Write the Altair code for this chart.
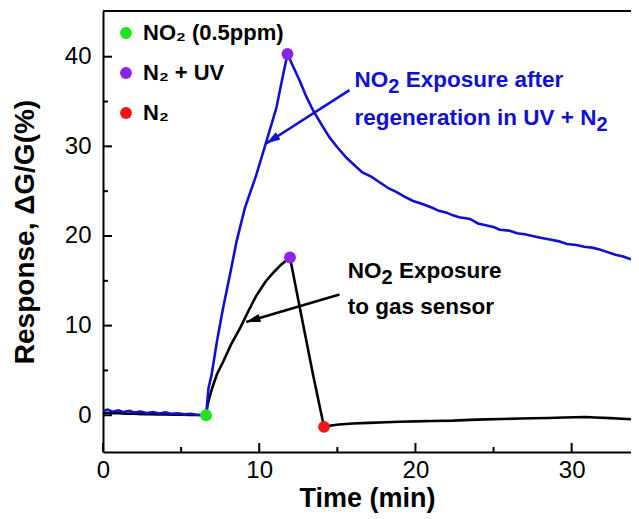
import math
import altair as alt
import pandas as pd

# ---------------- data ----------------
# black: first NO2 exposure of the sensor
black_t = [0, 0.5, 1, 1.5, 2, 2.5, 3, 3.5, 4, 4.5, 5, 5.5, 6, 6.6,
           6.7, 6.85, 7.0, 7.3, 7.7, 8.2, 8.8, 9.3, 9.8, 10.4, 10.9, 11.4, 11.97,
           12.6, 13.45, 14.15,
           14.6, 15.1, 16, 17, 18.1, 19, 20, 21, 22.4, 23.5, 24.5, 25.5, 26.7,
           27.5, 28.5, 29.5, 30.9, 31.5, 32.5, 33.8]
black_v = [0.28, 0.22, 0.24, 0.18, 0.16, 0.12, 0.13, 0.1, 0.08, 0.07, 0.05, 0.04, 0.02, 0.0,
           1.2, 2.2, 3.1, 4.6, 6.0, 7.9, 9.8, 11.6, 13.3, 14.9, 15.9, 16.8, 17.6,
           12.0, 4.5, -1.3,
           -1.15, -1.04, -0.92, -0.85, -0.78, -0.72, -0.68, -0.64, -0.6, -0.52, -0.46, -0.42, -0.37,
           -0.33, -0.3, -0.25, -0.2, -0.25, -0.32, -0.45]

# blue: NO2 exposure after regeneration in UV + N2
blue_t = [0, 0.3, 0.6, 1.0, 1.3, 1.7, 2.0, 2.4, 2.8, 3.2, 3.6, 4.0, 4.4, 4.8, 5.2, 5.6, 6.0, 6.6,
          6.75, 6.95, 7.3, 7.69, 8.13, 8.55, 9.08, 9.83, 10.47, 11.1, 11.53, 11.81,
          12.2, 12.6, 13.0, 13.45, 14.0, 14.5, 15.0, 15.6, 16.1, 16.6, 17.2, 17.7, 18.3, 18.8,
          19.3, 19.85, 20.4, 21.0, 21.5, 22.0, 22.4, 22.8, 23.5, 24.0, 24.5, 25.0, 25.4, 26.0,
          26.5, 27.0, 27.5, 28.0, 28.6, 29.2, 29.7, 30.3, 30.8, 31.3, 31.8, 32.3, 32.8, 33.3, 33.8]
blue_v = [0.5, 0.62, 0.4, 0.55, 0.35, 0.48, 0.3, 0.42, 0.25, 0.36, 0.2, 0.32, 0.15, 0.22, 0.1, 0.16, 0.06, 0.0,
          3.0, 4.5, 8.3, 12.0, 15.7, 19.4, 23.1, 26.9, 30.6, 34.3, 38.0, 40.3,
          38.8, 37.3, 35.6, 34.0, 32.4, 31.0, 29.9, 28.7, 27.9, 27.1, 26.6, 26.0, 25.3, 24.9,
          24.4, 23.9, 23.6, 23.2, 22.8, 22.6, 22.3, 22.1, 21.9, 21.4, 21.2, 21.0, 20.7, 20.6,
          20.3, 20.2, 20.0, 19.8, 19.6, 19.4, 19.1, 19.0, 18.8, 18.7, 18.5, 18.2, 17.9, 17.7, 17.4]

# coloured markers (legend)
marker_t = [6.6, 11.81, 11.97, 14.15]
marker_v = [0.0, 40.3, 17.6, -1.3]
marker_label = ["NO₂ (0.5ppm)", "N₂ + UV", "N₂ + UV", "N₂"]
legend_order = ["NO₂ (0.5ppm)", "N₂ + UV", "N₂"]
legend_colors = ["#22E322", "#8B24E6", "#F01414"]

# arrows (start -> tip)
arrow_t0 = [15.78, 15.14]
arrow_v0 = [36.27, 13.47]
arrow_t1 = [10.45, 9.17]
arrow_v1 = [30.32, 10.41]
arrow_color = ["#1010D0", "#000000"]

# annotation text lines: (main, subscript, rest)
ann_lines = [["NO", "2", "Exposure after"],
             ["regeneration in UV + N", "2", ""],
             ["NO", "2", "Exposure"],
             ["to gas sensor", "", ""]]
ann_t = [16.1, 16.1, 15.67, 15.67]
ann_v = [36.64, 32.37, 15.26, 11.27]
ann_color = ["#1010D0", "#1010D0", "#000000", "#000000"]

x_ticks_major = [0, 10, 20, 30]
x_ticks_minor = [5, 15, 25]
y_ticks_major = [0, 10, 20, 30, 40]
y_ticks_minor = [5, 15, 25, 35]

# ---------------- layout ----------------
W, H = 528, 441
XDOM = [0, 33.8]
YDOM = [-4.1, 45.1]
FONT = "Liberation Sans"
BLUE = "#1010D0"

xs = alt.Scale(domain=XDOM, nice=False, zero=False)
ys = alt.Scale(domain=YDOM, nice=False, zero=False)

# Arial-bold advance widths (per 1000 em)
ADV = {" ": 278, "N": 722, "O": 778, "E": 667, "x": 556, "p": 611, "o": 611, "s": 556,
       "u": 611, "r": 389, "e": 556, "a": 556, "f": 333, "t": 333, "g": 611, "n": 611,
       "i": 278, "U": 722, "V": 667, "+": 584, "2": 556}


def tw(s, size):
    return sum(ADV.get(c, 556) for c in s) * size / 1000.0


black_df = pd.DataFrame({"t": black_t, "v": black_v})
blue_df = pd.DataFrame({"t": blue_t, "v": blue_v})
marker_df = pd.DataFrame({"t": marker_t, "v": marker_v, "label": marker_label})

xaxis = alt.Axis(values=x_ticks_major, ticks=False, grid=False, labelFontSize=24, labelFont=FONT,
                 labelColor="black", labelPadding=6, labelFlush=False, domainColor="black", domainWidth=2,
                 title="Time (min)", titleFont=FONT, titleFontSize=27, titleFontWeight="bold",
                 titleColor="black", titlePadding=3, format="d")
yaxis = alt.Axis(values=y_ticks_major, ticks=False, grid=False, labelFontSize=24, labelFont=FONT,
                 labelColor="black", labelPadding=12, labelFlush=False, domainColor="black", domainWidth=2,
                 title="Response, ΔG/G(%)", titleFont=FONT, titleFontSize=28, titleFontWeight="bold",
                 titleColor="black", titlePadding=25, format="d")

base_black = alt.Chart(black_df).mark_line(color="black", strokeWidth=2.6, clip=True).encode(
    x=alt.X("t:Q", scale=xs, axis=xaxis),
    y=alt.Y("v:Q", scale=ys, axis=yaxis),
)
blue_line = alt.Chart(blue_df).mark_line(color=BLUE, strokeWidth=2.6, clip=True).encode(
    x=alt.X("t:Q", scale=xs), y=alt.Y("v:Q", scale=ys))

layers = [base_black, blue_line]

# arrows
pxx = W / (XDOM[1] - XDOM[0])
pxy = H / (YDOM[1] - YDOM[0])
for i in range(len(arrow_t0)):
    adf = pd.DataFrame({"t": [arrow_t0[i]], "v": [arrow_v0[i]], "t2": [arrow_t1[i]], "v2": [arrow_v1[i]]})
    layers.append(alt.Chart(adf).mark_rule(color=arrow_color[i], strokeWidth=2.6).encode(
        x=alt.X("t:Q", scale=xs), y=alt.Y("v:Q", scale=ys), x2="t2:Q", y2="v2:Q"))
    dx = (arrow_t1[i] - arrow_t0[i]) * pxx
    dy = -(arrow_v1[i] - arrow_v0[i]) * pxy
    ang = math.degrees(math.atan2(dx, -dy)) % 360
    hdf = pd.DataFrame({"t": [arrow_t1[i]], "v": [arrow_v1[i]]})
    layers.append(alt.Chart(hdf).mark_point(
        shape="M0,0 L0.6,2 L-0.6,2 Z", filled=True, opacity=1, size=200, angle=ang,
        color=arrow_color[i], strokeWidth=0).encode(
        x=alt.X("t:Q", scale=xs), y=alt.Y("v:Q", scale=ys)))

# annotation texts
MAIN, SUB = 22.5, 20
for i, (a, b, c) in enumerate(ann_lines):
    tdf = pd.DataFrame({"t": [ann_t[i]], "v": [ann_v[i]]})
    pieces = [(a, 0, MAIN, 0)]
    off = tw(a, MAIN)
    if b:
        pieces.append((b, off, SUB, 6))
        off += tw(b, SUB)
    if c:
        off += tw(" ", MAIN)
        pieces.append((c, off, MAIN, 0))
    for txt, ox, sz, oy in pieces:
        layers.append(alt.Chart(tdf).mark_text(
            text=txt, align="left", baseline="alphabetic", dx=ox, dy=oy, font=FONT,
            fontSize=sz, fontWeight="bold", color=ann_color[i]).encode(
            x=alt.X("t:Q", scale=xs), y=alt.Y("v:Q", scale=ys)))

# coloured markers with legend
layers.append(alt.Chart(marker_df).mark_point(filled=True, size=140, opacity=1, strokeWidth=0).encode(
    x=alt.X("t:Q", scale=xs), y=alt.Y("v:Q", scale=ys),
    color=alt.Color("label:N", scale=alt.Scale(domain=legend_order, range=legend_colors),
                    legend=alt.Legend(title=None, orient="none", legendX=12, legendY=11,
                                      labelFont=FONT, labelFontSize=22, labelFontWeight="bold",
                                      labelColor="black", symbolType="circle", symbolSize=140,
                                      symbolStrokeWidth=0, symbolOpacity=1, rowPadding=18,
                                      labelOffset=6, padding=0))))

# inward ticks
for vals, L in ((x_ticks_major, 9), (x_ticks_minor, 5)):
    layers.append(alt.Chart(pd.DataFrame({"t": vals})).mark_rule(color="black", strokeWidth=2).encode(
        x=alt.X("t:Q", scale=xs), y=alt.value(H), y2=alt.value(H - L)))
for vals, L in ((y_ticks_major, 9), (y_ticks_minor, 5)):
    layers.append(alt.Chart(pd.DataFrame({"v": vals})).mark_rule(color="black", strokeWidth=2).encode(
        y=alt.Y("v:Q", scale=ys), x=alt.value(0), x2=alt.value(L)))

# top frame line
layers.append(alt.Chart(pd.DataFrame({"a": [0]})).mark_rule(color="black", strokeWidth=2).encode(
    x=alt.value(0), x2=alt.value(W), y=alt.value(0)))

chart = alt.layer(*layers).properties(
    width=W, height=H,
    padding={"left": 95, "top": 3, "right": 0, "bottom": 66},
    autosize=alt.AutoSizeParams(type="none"),
).configure_view(stroke=None).configure(background="white")

chart.save("out.html", embed_options={"renderer": "svg", "actions": False})
